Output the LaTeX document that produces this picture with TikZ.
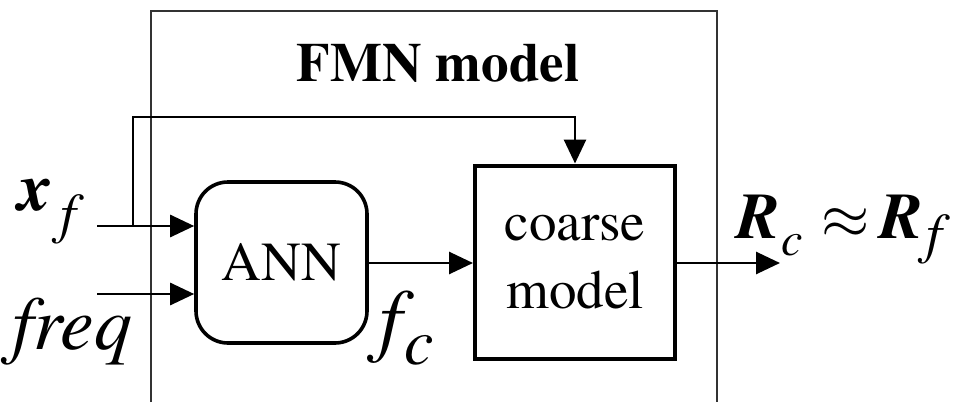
\documentclass[tikz,border=0pt]{standalone}
\usepackage{fontspec}
\setmainfont{texgyretermes}[Extension=.otf,UprightFont=*-regular,BoldFont=*-bold,ItalicFont=*-italic,BoldItalicFont=*-bolditalic]
\usetikzlibrary{arrows.meta}
\newcommand\fsz[1]{\fontsize{#1}{#1}\selectfont}
\begin{document}
\begin{tikzpicture}[x=1pt,y=-1pt,
  flow/.style={line width=2.8pt,line join=miter,-{Triangle[length=24pt,width=22pt]}},
  blockbox/.style={draw,inner sep=0pt,font=\fontsize{55}{68}\selectfont,align=center},
  lbl/.style={anchor=base west,inner sep=0pt}]
\useasboundingbox (0,0) rectangle (953,402);
% model frame, open at the bottom
\draw[line width=1.2pt,black!80] (151,402) -- (151,11) -- (717,11) -- (717,402);
\node[font=\fsz{55}\bfseries] (title) at (438,63) {FMN model};
% blocks
\node[blockbox,line width=3.6pt,rounded corners=32pt,minimum width=171pt,minimum height=161pt] (ann) at (281.5,262.5) {ANN};
\node[blockbox,line width=4pt,minimum width=200pt,minimum height=193pt] (coarse) at (575,262) {coarse\\model};
% connector points
\coordinate (xin) at (97,226);
\coordinate (fin) at (97,294);
\coordinate (split) at (133,226);
\coordinate (bend) at (575,117);
\coordinate (out) at (780,263);
\draw[flow] (xin) -- (xin -| ann.west);
\draw[flow] (fin) -- (fin -| ann.west);
\draw[flow] (split) |- (bend) -- (coarse.north);
\draw[flow] (ann.east |- out) -- (coarse.west |- out);
\draw[flow] (coarse.east |- out) -- (out);
% labels
\node[lbl] (xf) at (18,210) {{\fsz{68}\bfseries\itshape x}\hspace{8pt}\raisebox{-22pt}{\fsz{56}\itshape f}};
\node[lbl,font=\fsz{76}\itshape] (freq) at (12,349) {freq};
\node[lbl] (fc) at (379,346) {{\fsz{82}\itshape f}\hspace{2pt}\raisebox{-18pt}{\fsz{66}\itshape c}};
\node[lbl] (rel) at (736,238) {{\fsz{65}\bfseries\itshape R}\hspace{2pt}\raisebox{-17pt}{\fsz{48}\itshape c}\hspace{19pt}\scalebox{6.2}{$\approx$}\hspace{9pt}{\fsz{65}\bfseries\itshape R}\hspace{4pt}\raisebox{-14pt}{\fsz{56}\itshape f}};
\end{tikzpicture}
\end{document}
